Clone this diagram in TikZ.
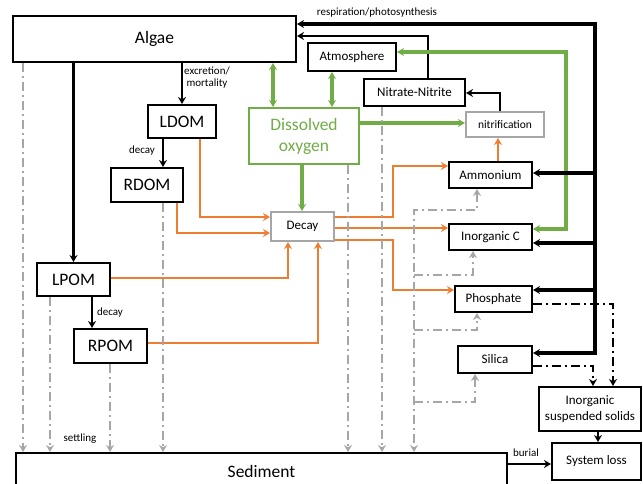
\documentclass[tikz,border=0pt]{standalone}
\usepackage{fontspec}
\setmainfont{Carlito}
\usetikzlibrary{arrows.meta}

\definecolor{doGreen}{HTML}{70AD47}
\definecolor{decayOrange}{HTML}{ED7D31}
\definecolor{settleGray}{HTML}{A6A6A6}

\begin{document}
\begin{tikzpicture}[x=1pt,y=-1pt,>={Stealth[length=7pt,width=8pt]},
        box/.style={draw,line width=2pt,inner sep=0pt,font=\fontsize{13}{16}\selectfont},
        bigbox/.style={box,font=\fontsize{17.5}{21}\selectfont},
        graybox/.style={box,draw=settleGray},
        flow/.style={->,line width=2.8pt},
        bus/.style={->,line width=3.4pt},
        oflow/.style={->,line width=2.4pt,draw=decayOrange},
        gflow/.style={->,line width=3.4pt,draw=doGreen},
        settle/.style={->,line width=2.3pt,draw=settleGray,dash pattern=on 9pt off 4pt on 2pt off 4pt},
        solids/.style={->,line width=2.3pt,dash pattern=on 9pt off 4pt on 2pt off 4pt},
        lbl/.style={font=\fontsize{11}{12}\selectfont,inner sep=1pt}]

  \useasboundingbox (0,0) rectangle (643,483);
  \clip (0,0) rectangle (643,483);

  \node[bigbox,minimum width=283pt,minimum height=46pt] (Algae) at (154.5,39) {Algae};
  \node[box,minimum width=88pt,minimum height=28pt] (Atmosphere) at (352,57) {Atmosphere};
  \node[box,minimum width=101pt,minimum height=27pt] (Nitrate Nitrite) at (414.5,92.5) {Nitrate-Nitrite};
  \node[graybox,minimum width=78pt,minimum height=25pt,font=\fontsize{11.5}{13}\selectfont] (Nitrification) at (505,124.5) {nitrification};
  \node[bigbox,draw=doGreen,text=doGreen,align=center,minimum width=110pt,minimum height=56pt] (Dissolved Oxygen) at (304,136) {Dissolved\\oxygen};
  \node[bigbox,minimum width=68pt,minimum height=33pt] (LDOM) at (182,121.5) {LDOM};
  \node[bigbox,minimum width=72pt,minimum height=34pt] (RDOM) at (147,185) {RDOM};
  \node[graybox,minimum width=63pt,minimum height=29pt] (Decay) at (302.5,226.5) {Decay};
  \node[bigbox,minimum width=73pt,minimum height=33pt] (LPOM) at (73.5,279.5) {LPOM};
  \node[bigbox,minimum width=73pt,minimum height=34pt] (RPOM) at (110.5,346) {RPOM};
  \node[box,minimum width=83pt,minimum height=26pt] (Ammonium) at (490.5,175) {Ammonium};
  \node[box,minimum width=83pt,minimum height=26pt] (Inorganic C) at (490.5,237) {Inorganic C};
  \node[box,minimum width=77pt,minimum height=26pt] (Phosphate) at (493.5,299) {Phosphate};
  \node[box,minimum width=74pt,minimum height=27pt] (Silica) at (495,359.5) {Silica};
  \node[box,align=center,minimum width=102pt,minimum height=44pt] (Suspended Solids) at (590,409) {Inorganic\\suspended solids};
  \node[box,minimum width=89pt,minimum height=37pt] (System Loss) at (596.5,461.5) {System loss};
  \node[bigbox,minimum width=491pt,minimum height=37pt] (Sediment) at (261.5,471.5) {Sediment};

  \node[lbl,align=center] (Excretion) at (207,78) {excretion/\\mortality};
  \node[lbl] (DOM Decay) at (142,151) {decay};
  \node[lbl] (POM Decay) at (110,313) {decay};
  \node[lbl] (Settling) at (80,439) {settling};
  \node[lbl] (Burial) at (526,453) {burial};
  \node[lbl] (Respiration) at (377,13) {respiration/photosynthesis};

  % organic matter
  \draw[flow] (Algae.south -| LDOM.north) -- (LDOM.north);
  \draw[flow] (Algae.south -| LPOM.north) -- (LPOM.north);
  \draw[flow] (LDOM.south -| 163,0) -- (RDOM.north -| 163,0);
  \draw[flow] (LPOM.south -| 92,0) -- (RPOM.north -| 92,0);

  % into decay
  \draw[oflow] (LDOM.south -| 200,0) |- (Decay.west |- 0,217);
  \draw[oflow] (RDOM.south -| 177,0) |- (Decay.west |- 0,233);
  \draw[oflow] (LPOM.east |- 0,278) -| (Decay.south -| 288,0);
  \draw[oflow] (RPOM.east |- 0,343) -| (Decay.south -| 318,0);
  \draw[gflow] (Dissolved Oxygen.south -| 302,0) -- (Decay.north -| 302,0);

  % out of decay
  \draw[oflow] (Decay.east |- 0,217) -| (393,166) -- (Ammonium.west |- 0,166);
  \draw[oflow] (Decay.east |- 0,228) -- (Inorganic C.west |- 0,228);
  \draw[oflow] (Decay.east |- 0,240) -| (393,290) -- (Phosphate.west |- 0,290);
  \draw[oflow] (Ammonium.north -| 498,0) -- (Nitrification.south -| 498,0);

  % nitrogen
  \draw[flow] (Nitrification.north -| 500,0) |- (Nitrate Nitrite.east |- 0,93);
  \draw[flow] (Nitrate Nitrite.north -| 428,0) |- (Algae.east |- 0,36);

  % oxygen
  \draw[gflow,<->] (Algae.south -| 273,0) -- (Dissolved Oxygen.north -| 273,0);
  \draw[gflow,<->] (Atmosphere.south -| 332,0) -- (Dissolved Oxygen.north -| 332,0);
  \draw[gflow] (Dissolved Oxygen.east |- 0,123) -- (Nitrification.west |- 0,123);
  \draw[gflow,<->] (Atmosphere.east |- 0,52) -| (566,229) -- (Inorganic C.east |- 0,229);

  % respiration/photosynthesis
  \coordinate (Bus Top) at (595,24);
  \draw[bus,<->,line width=4pt] (Algae.east |- Bus Top) -- (Bus Top) |- (Silica.east |- 0,353);
  \draw[bus] (Bus Top |- 0,173) -- (Ammonium.east |- 0,173);
  \draw[bus] (Bus Top |- 0,243) -- (Inorganic C.east |- 0,243);
  \draw[bus] (Bus Top |- 0,290) -- (Phosphate.east |- 0,290);

  % inorganic solids and losses
  \draw[solids] (Phosphate.east |- 0,304) -| (Suspended Solids.north -| 613,0);
  \draw[solids] (Silica.east |- 0,366) -| (Suspended Solids.north -| 593,0);
  \draw[flow] (Suspended Solids.south -| 598,0) -- (System Loss.north -| 598,0);
  \draw[flow] (Sediment.east |- 0,464) -- (System Loss.west |- 0,464);

  % settling
  \draw[settle] (Algae.south -| 23,0) -- (Sediment.north -| 23,0);
  \draw[settle] (LPOM.south -| 50,0) -- (Sediment.north -| 50,0);
  \draw[settle] (RPOM.south -| 110,0) -- (Sediment.north -| 110,0);
  \draw[settle] (RDOM.south -| 163,0) -- (Sediment.north -| 163,0);
  \draw[settle] (Dissolved Oxygen.south -| 348,0) -- (Sediment.north -| 348,0);
  \draw[settle] (Nitrate Nitrite.south -| 382,0) -- (Sediment.north -| 382,0);

  % sediment exchange
  \coordinate (Release Top) at (414,210);
  \draw[settle,<->] (Ammonium.south -| 477,0) |- (Release Top) -- (Sediment.north -| Release Top);
  \draw[settle] (Release Top |- 0,275) -| (Inorganic C.south -| 473,0);
  \draw[settle] (Release Top |- 0,330) -| (Phosphate.south -| 477,0);
  \draw[settle] (Release Top |- 0,402) -| (Silica.south -| 475,0);
\end{tikzpicture}
\end{document}
